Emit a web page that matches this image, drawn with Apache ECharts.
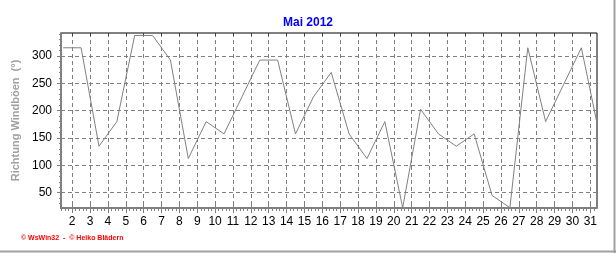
<!DOCTYPE html>
<html><head><meta charset="utf-8">
<script src="https://cdn.jsdelivr.net/npm/echarts@6/dist/echarts.min.js"></script>
<style>html,body{margin:0;padding:0;background:#fff}#c{width:616px;height:253px}</style>
</head><body><div id="c"></div>
<script>
// ---- data ----
const days = [1,2,3,4,5,6,7,8,9,10,11,12,13,14,15,16,17,18,19,20,21,22,23,24,25,26,27,28,29,30,31];
const windDir = [315,315,135,180,337.5,337.5,292.5,112.5,180,157.5,225,292.5,292.5,157.5,225,270,157.5,112.5,180,22.5,202.5,157.5,135,157.5,45,22.5,315,180,247.5,315,157.5];
const xTickLabels = [2,3,4,5,6,7,8,9,10,11,12,13,14,15,16,17,18,19,20,21,22,23,24,25,26,27,28,29,30,31];
const yTickLabels = [50,100,150,200,250,300];
const titleText = 'Mai 2012';
const yName = 'Richtung Windböen  (°)';
const footer = '© WsWin32  -  © Heiko Blädern';

// ---- derived ----
const seriesData = days.map((d, i) => [d + 0.5, windDir[i]]);
const xMinor = [];
for (let k = 7; k <= 156; k++) { if (k % 5 !== 0) xMinor.push(k / 5); }
const yMinor = [];
for (let v = 30; v <= 340; v += 10) { if (v % 50 !== 0) yMinor.push(v); }

const X_MIN = 1.375, X_MAX = 31.375, Y_MIN = 22, Y_MAX = 342;
const FF = 'Liberation Sans, Arial, sans-serif';
const GRAY = '#808080';

const chart = echarts.init(document.getElementById('c'), null, {renderer: 'canvas'});
const hidden = {show: false};
chart.setOption({
  animation: false,
  backgroundColor: '#fff',
  title: {text: titleText, left: 'center', top: 12,
    textStyle: {color: '#0000ff', fontSize: 12, fontWeight: 'bold', fontFamily: FF}},
  grid: {left: 61, right: 19, top: 33, bottom: 45, show: true, borderColor: '#000', borderWidth: 1, backgroundColor: 'transparent'},
  xAxis: [
    {type: 'value', min: X_MIN, max: X_MAX, position: 'bottom',
      axisLine: {show: true, onZero: false, lineStyle: {color: GRAY, width: 2}},
      axisTick: {show: true, customValues: xTickLabels, length: 5, lineStyle: {color: GRAY}},
      axisLabel: {show: true, customValues: xTickLabels, color: '#000', fontSize: 12, fontFamily: FF, margin: 8},
      splitLine: {show: true, lineStyle: {color: GRAY, width: 1, type: [4, 3]}}},
    {type: 'value', min: X_MIN, max: X_MAX, position: 'bottom',
      axisLine: {show: false, onZero: false},
      axisTick: {show: true, customValues: xMinor, length: 3, lineStyle: {color: GRAY}},
      axisLabel: hidden, splitLine: hidden},
    {type: 'value', min: X_MIN, max: X_MAX, position: 'bottom',
      axisLine: {show: false, onZero: false},
      axisTick: {show: true, inside: true, customValues: xTickLabels, length: 3, lineStyle: {color: GRAY}},
      axisLabel: hidden, splitLine: hidden},
    {type: 'value', min: X_MIN, max: X_MAX, position: 'top',
      axisLine: {show: false, onZero: false},
      axisTick: {show: true, inside: true, customValues: xTickLabels, length: 3, lineStyle: {color: '#404040'}},
      axisLabel: hidden, splitLine: hidden}
  ],
  yAxis: [
    {type: 'value', min: Y_MIN, max: Y_MAX, position: 'left',
      name: yName, nameLocation: 'middle', nameGap: 27,
      nameTextStyle: {color: '#a0a0a0', fontSize: 11, fontWeight: 'bold', fontFamily: FF},
      axisLine: {show: true, onZero: false, lineStyle: {color: GRAY, width: 2}},
      axisTick: {show: true, customValues: yTickLabels, length: 4, lineStyle: {color: GRAY}},
      axisLabel: {show: true, customValues: yTickLabels, color: '#000', fontSize: 12, fontFamily: FF, margin: 9},
      splitLine: {show: true, lineStyle: {color: GRAY, width: 1, type: [4, 3]}}},
    {type: 'value', min: Y_MIN, max: Y_MAX, position: 'left',
      axisLine: {show: false, onZero: false},
      axisTick: {show: true, customValues: yMinor, length: 2, lineStyle: {color: GRAY}},
      axisLabel: hidden, splitLine: hidden}
  ],
  series: [{
    type: 'line', xAxisIndex: 0, yAxisIndex: 0, data: seriesData,
    showSymbol: false, symbol: 'none', clip: true,
    lineStyle: {color: GRAY, width: 1}, silent: true
  }],
  graphic: [
    {type: 'text', left: 21, top: 235, style: {text: footer, fill: '#ff0000', font: 'bold 7px ' + FF}},
    {type: 'line', shape: {x1: 614.5, y1: 0, x2: 614.5, y2: 253}, style: {stroke: '#a0a0a0', lineWidth: 2}},
    {type: 'line', shape: {x1: 0, y1: 251.5, x2: 616, y2: 251.5}, style: {stroke: '#a0a0a0', lineWidth: 2}}
  ]
});
</script>
</body></html>
